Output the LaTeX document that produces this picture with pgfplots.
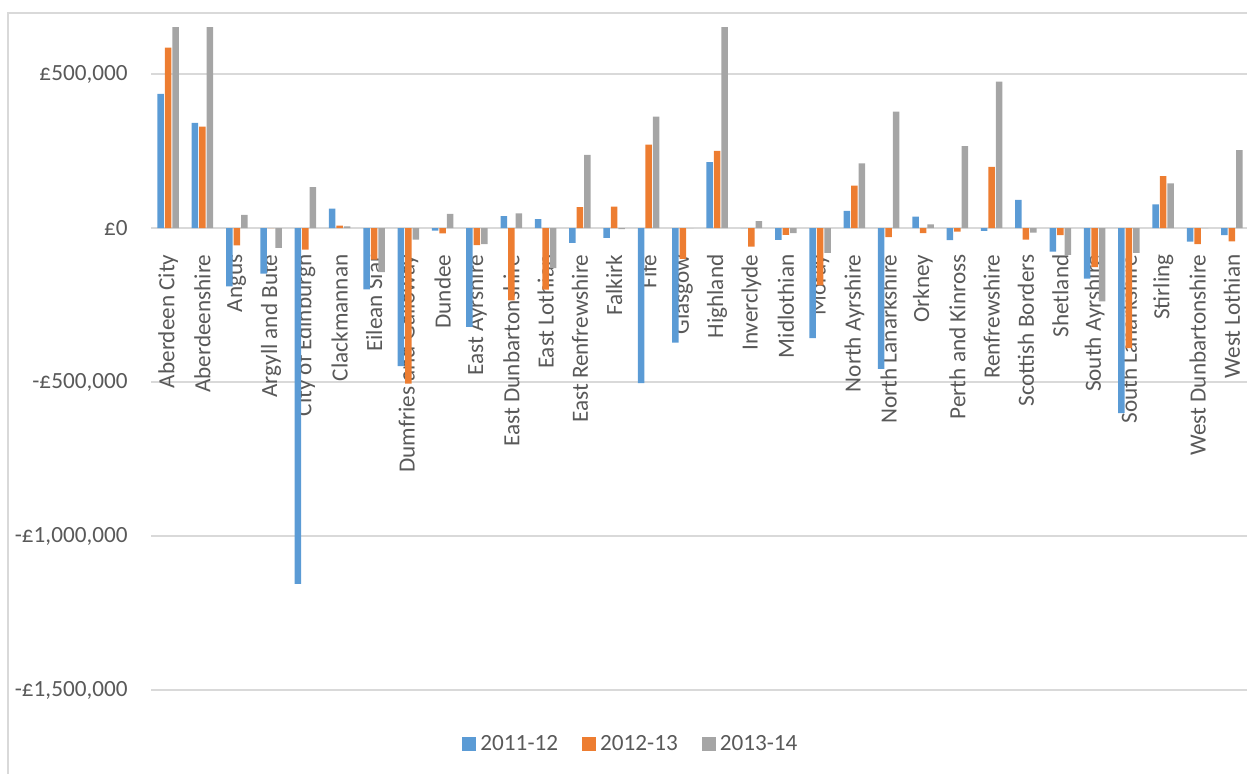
\documentclass[border=0pt]{standalone}
\usepackage{fontspec}
\setmainfont{Carlito}
\usepackage{pgfplots}
\pgfplotsset{compat=1.18}

\definecolor{s1}{HTML}{5B9BD5}
\definecolor{s2}{HTML}{ED7D31}
\definecolor{s3}{HTML}{A5A5A5}
\definecolor{gridc}{HTML}{D9D9D9}
\definecolor{txt}{HTML}{595959}

\begin{document}
\begin{tikzpicture}
\path[use as bounding box] (0,0) rectangle (623.5pt,387pt);
% chart frame
\draw[gridc, line width=0.75pt] (4pt,-1pt) -- (4pt,380.5pt) -- (625pt,380.5pt);
\begin{axis}[
  at={(75.5pt,42pt)}, anchor=south west,
  width=549pt, height=331pt, scale only axis,
  xmin=-0.5, xmax=31.5, ymin=-1500000, ymax=650000,
  scaled y ticks=false,
  axis x line=middle, axis y line=left,
  x axis line style={draw=gridc, line width=0.75pt, -},
  y axis line style={draw=none},
  hide obscured x ticks=false, hide obscured y ticks=false,
  major tick length=0pt,
  xtick={0,...,31},
  xticklabels={Aberdeen City, Aberdeenshire, Angus, Argyll and Bute, City of Edinburgh,
    Clackmannan, Eilean Siar, Dumfries and Galloway, Dundee, East Ayrshire,
    East Dunbartonshire, East Lothian, East Renfrewshire, Falkirk, Fife, Glasgow,
    Highland, Inverclyde, Midlothian, Moray, North Ayrshire, North Lanarkshire,
    Orkney, Perth and Kinross, Renfrewshire, Scottish Borders, Shetland,
    South Ayrshire, South Lanarkshire, Stirling, West Dunbartonshire, West Lothian},
  ytick={-1500000,-1000000,-500000,0,500000},
  yticklabels={{-£1,500,000},{-£1,000,000},{-£500,000},{£0},{£500,000}},
  ymajorgrids, grid style={gridc, line width=0.75pt},
  ybar=0.5pt, bar width=3.25pt,
  legend image code/.code={\fill[#1,draw=none] (0pt,-3.5pt) rectangle (7pt,3.5pt);},
  tick label style={font=\fontsize{11.6}{13.9}\selectfont, text=txt},
  xticklabel style={rotate=90, anchor=east, inner sep=0pt},
  xticklabel shift=13pt,
  yticklabel style={anchor=east, inner sep=0pt},
  yticklabel shift=11.5pt,
  legend style={at={(0.438,-0.0816)}, anchor=center, legend columns=3,
    draw=none, fill=none, font=\fontsize{11.6}{13.9}\selectfont, text=txt,
    /tikz/every even column/.append style={column sep=10pt}},
]
% 2011-12
\addplot[fill=s1, draw=none] coordinates {
  (0,436000) (1,342000) (2,-189000) (3,-148000) (4,-1155000) (5,63000)
  (6,-199000) (7,-448000) (8,-8000) (9,-321000) (10,39000) (11,29000)
  (12,-48000) (13,-32000) (14,-503000) (15,-372000) (16,214000) (17,0)
  (18,-38000) (19,-357000) (20,56000) (21,-457000) (22,37000) (23,-39000)
  (24,-9000) (25,92000) (26,-76000) (27,-164000) (28,-601000) (29,77000)
  (30,-44000) (31,-23000)};
% 2012-13
\addplot[fill=s2, draw=none] coordinates {
  (0,586000) (1,330000) (2,-56000) (3,0) (4,-70000) (5,8000)
  (6,-102000) (7,-505000) (8,-17000) (9,-55000) (10,-235000) (11,-200000)
  (12,68000) (13,70000) (14,271000) (15,-100000) (16,251000) (17,-60000)
  (18,-22000) (19,-186000) (20,138000) (21,-29000) (22,-16000) (23,-11000)
  (24,199000) (25,-37000) (26,-23000) (27,-127000) (28,-390000) (29,169000)
  (30,-52000) (31,-43000)};
% 2013-14
\addplot[fill=s3, draw=none] coordinates {
  (0,720000) (1,700000) (2,43000) (3,-64000) (4,133000) (5,6000)
  (6,-143000) (7,-37000) (8,46000) (9,-52000) (10,48000) (11,-130000)
  (12,238000) (13,-3000) (14,362000) (15,0) (16,710000) (17,23000)
  (18,-16000) (19,-80000) (20,210000) (21,378000) (22,12000) (23,266000)
  (24,476000) (25,-15000) (26,-87000) (27,-238000) (28,-80000) (29,145000)
  (30,0) (31,253000)};
\legend{2011-12, 2012-13, 2013-14}
\end{axis}
\end{tikzpicture}
\end{document}
